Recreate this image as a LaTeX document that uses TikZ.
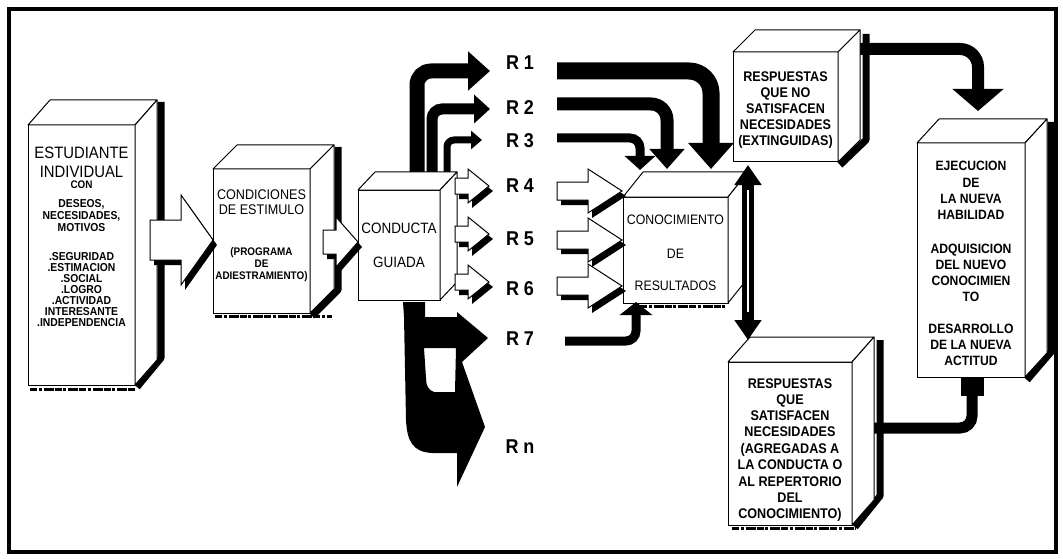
\documentclass[tikz,border=0pt]{standalone}
\usepackage{fontspec}
\setmainfont{Liberation Sans}[FakeStretch=0.9]
\usetikzlibrary{arrows.meta,calc}
\newcommand{\fsz}[1]{\fontsize{#1}{#1}\selectfont}
\newcommand{\cube}[7]{%
  \node[cubeface, minimum width={#4pt-#2pt}, minimum height={#5pt-#3pt}, anchor=north west] (#1) at (#2,#3) {};
  \draw[cubeline] (#1.north west) -- ++(#6,-#7) -- ([shift={(#6,-#7)}]#1.north east) -- (#1.north east) -- cycle;
  \draw[cubeline] (#1.north east) -- ++(#6,-#7) -- ([shift={(#6,-#7)}]#1.south east) -- (#1.south east) -- cycle;
}
\newcommand{\tlines}[4]{%
  \foreach \yy/\txt [count=\i] in {#4} \node[anchor=base, inner sep=0pt, font=#3] (#1-\i) at (#2,\yy) {\txt};
}
% name, x0 (tail), yc, xh (head start), x1 (tip), h (shaft half), H (head half)
\newcommand{\harrow}[7]{%
  \fill[black, shift={(4,5)}] (#2,#3-#6) -- (#4,#3-#6) -- (#4,#3-#7) -- (#5,#3) -- (#4,#3+#7) -- (#4,#3+#6) -- (#2,#3+#6) -- cycle;
  \draw[fill=white, line width=1pt, line join=miter] (#2,#3-#6) -- (#4,#3-#6) -- (#4,#3-#7) -- (#5,#3) -- (#4,#3+#7) -- (#4,#3+#6) -- (#2,#3+#6) -- cycle;
  \coordinate (#1) at (#5,#3);
}
\begin{document}
\begin{tikzpicture}[x=1pt, y=-1pt,
  cubeface/.style={draw, fill=white, line width=1pt, inner sep=0pt, outer sep=0pt},
  cubeline/.style={draw, fill=white, line width=1pt, line join=round},
  shadowband/.style={draw, line width=7pt, line join=round},
  noise/.style={draw, line width=3pt, dash pattern=on 7pt off 1.5pt on 3pt off 2pt on 10pt off 1pt},
  blackarrow/.style={draw=black, line cap=butt},
  rlab/.style={anchor=base, inner sep=0pt, font=\fsz{20}\bfseries}
]
\useasboundingbox (0,0) rectangle (1063,559);
\fill[white] (0,0) rectangle (1063,559);
% frame
\draw[line width=3.5pt] (9,9) rectangle (1056,552);

% ---------- Box 1 ----------
\draw[shadowband] (161,102) -- (161,358) -- (137,387);
\cube{b1}{28}{125}{135}{385}{22}{25}
\draw[noise] (30,389) -- (135,389);
\tlines{b1a}{81.5}{\fsz{16.5}}{159/ESTUDIANTE, 177/INDIVIDUAL}
\tlines{b1b}{81.5}{\fsz{11}\bfseries}{189/CON}
\tlines{b1c}{81.5}{\fsz{11.5}\bfseries}{207/{DESEOS,}, 219/{NECESIDADES,}, 231/MOTIVOS, 260/.SEGURIDAD, 271/.ESTIMACION, 282/.SOCIAL, 293/.LOGRO, 304/.ACTIVIDAD, 315/INTERESANTE, 326/.INDEPENDENCIA}

% ---------- Box 2 ----------
\draw[shadowband] (338,147) -- (338,290) -- (312,316);
\cube{b2}{213}{169}{310}{313}{24}{24}
\draw[noise] (215,316) -- (332,316);
\tlines{b2a}{261.5}{\fsz{14}}{199/CONDICIONES, 214/DE ESTIMULO}
\tlines{b2b}{261.5}{\fsz{11}\bfseries}{255/(PROGRAMA, 267/DE, 279/ADIESTRAMIENTO)}

% arrow 1 -> 2
\harrow{a12}{150}{240}{181}{213}{20}{45}

% ---------- R1..R3 shafts from box 3 ----------
\draw[blackarrow, line width=15pt, rounded corners=14pt, -{Triangle[length=22pt,width=38pt]}] (417,190) -- (417,71) -- (490,71);
\draw[blackarrow, line width=11pt, rounded corners=10pt, -{Triangle[length=16pt,width=28pt]}] (432,190) -- (432,109) -- (490,109);
\draw[blackarrow, line width=7pt, rounded corners=7pt, -{Triangle[length=11pt,width=18pt]}] (447,190) -- (447,140) -- (482,140);

% ---------- Box 3 ----------
\cube{b3}{358}{190}{440}{300}{17}{18}
\tlines{b3a}{399}{\fsz{15}}{233.4/CONDUCTA, 267.4/GUIADA}

% arrow 2 -> 3
\harrow{a23}{323}{242}{336}{358}{12}{25}

% R4..R6 small arrows out of box 3
\harrow{a4l}{455}{186}{468}{489}{8}{17}
\harrow{a5l}{455}{234}{468}{489}{8}{17}
\harrow{a6l}{455}{282}{468}{489}{8}{17}

% R7 / Rn shape
\fill[black, even odd rule]
  (403,302) -- (425,302) -- (425,317) -- (457,317) -- (457,312) -- (488,338) -- (462,362)
  -- (485,427) -- (457,487) -- (457,453) -- (432,453) .. controls (412,452) and (407,440) .. (406,420)
  -- (404,317) -- cycle
  (424,348) -- (456,348) -- (455,392) -- (434,392) .. controls (428,390) and (426,385) .. (426,378) -- cycle;

% ---------- R labels ----------
\node[rlab] (r1) at (520,70) {R 1};
\node[rlab] (r2) at (520,115) {R 2};
\node[rlab] (r3) at (520,147) {R 3};
\node[rlab] (r4) at (520,193) {R 4};
\node[rlab] (r5) at (520,245) {R 5};
\node[rlab] (r6) at (520,295) {R 6};
\node[rlab] (r7) at (520,345) {R 7};
\node[rlab] (rn) at (520,453) {R n};

% ---------- Box 4 ----------
\cube{b4}{623}{197}{728}{303}{20}{25}
\draw[noise] (640,306) -- (726,306);
\tlines{b4a}{675.5}{\fsz{13.7}}{224/CONOCIMIENTO, 258/DE, 290/RESULTADOS}

% R1..R3 into box 4
\draw[blackarrow, line width=17pt, rounded corners=22pt, -{Triangle[length=26pt,width=44pt]}] (557,71) -- (711,71) -- (711,169);
\draw[blackarrow, line width=13pt, rounded corners=16pt, -{Triangle[length=20pt,width=34pt]}] (557,104) -- (667,104) -- (667,169);
\draw[blackarrow, line width=9pt, rounded corners=10pt, -{Triangle[length=14pt,width=30pt]}] (557,138) -- (640,138) -- (640,170);
% R7 into box 4
\draw[blackarrow, line width=9pt, rounded corners=10pt, -{Triangle[length=13pt,width=32pt]}] (565,341) -- (636,341) -- (636,302);

% R4..R6 into box 4
\harrow{a4r}{557}{191}{588}{622}{9}{22}
\harrow{a5r}{557}{240}{588}{622}{9}{22}
\harrow{a6r}{557}{286}{588}{622}{9}{22}

% ---------- Box 5 ----------
\draw[blackarrow, line width=12pt, rounded corners=18pt, -{Triangle[length=22pt,width=50pt]}] (855,49) -- (978,49) -- (978,111);
\draw[shadowband] (866,34) -- (866,140) -- (840,165);
\cube{b5}{733}{52}{838}{162}{22}{22}
\tlines{b5a}{785.5}{\fsz{14}\bfseries}{82/RESPUESTAS, 98/QUE NO, 114/SATISFACEN, 130/NECESIDADES, 146/(EXTINGUIDAS)}

% ---------- Box 6 ----------
\draw[shadowband] (1051,122) -- (1051,352) -- (1027,380);
\cube{b6}{917}{143}{1025}{377}{22}{24}
\tlines{b6a}{971}{\fsz{13.5}\bfseries}{171/EJECUCION, 187/DE, 203/LA NUEVA, 219/HABILIDAD, 253/ADQUISICION, 269/DEL NUEVO, 285/CONOCIMIEN, 301/TO, 333/DESARROLLO, 349/DE LA NUEVA, 365/ACTITUD}

% ---------- Box 7 ----------
\draw[blackarrow, line width=11pt, rounded corners=12pt] (857,428) -- (972,428) -- (972,385);
\fill[black] (961,377) rectangle (984,396);
\draw[shadowband] (880,340) -- (880,496) -- (855,527);
\cube{b7}{728}{362}{852}{525}{22}{25}
\draw[noise] (732,528) -- (856,528);
\tlines{b7a}{790}{\fsz{14}\bfseries}{388/RESPUESTAS, 404/QUE, 420/SATISFACEN, 436/NECESIDADES, 453/(AGREGADAS A, 469/LA CONDUCTA O, 486/AL REPERTORIO, 502/DEL, 518/CONOCIMIENTO)}

% vertical double arrow between box 5 and box 7
\draw[blackarrow, line width=12pt, {Triangle[length=20pt,width=26pt]}-{Triangle[length=20pt,width=26pt]}] ([xshift=15pt,yshift=-3pt]b5.south west) -- ([xshift=20pt,yshift=22pt]b7.north west);
\draw[white, line width=1.2pt] (748,190) -- (748,312);
\end{tikzpicture}
\end{document}
